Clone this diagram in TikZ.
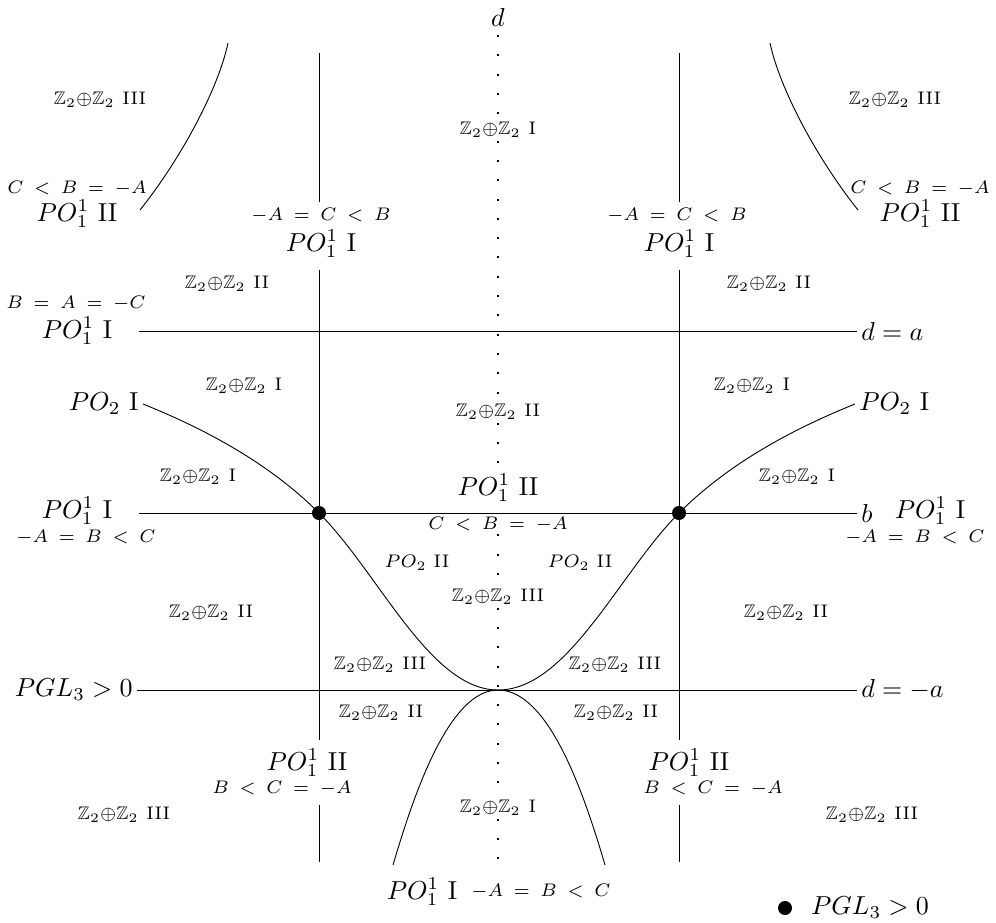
\documentclass[tikz,border=0pt]{standalone}
\usepackage{amsmath,amssymb}
\newcommand{\zzlab}[1]{$\mathbb{Z}_2{\oplus}\mathbb{Z}_2$\hspace{3pt}#1}
\newcommand{\rlab}[1]{$\thickmuskip=9mu #1$}
\newcommand{\polab}[1]{$PO_1^1$ #1}
\begin{document}
\begin{tikzpicture}[x=0.385pt,y=-0.385pt,
  big/.style={inner sep=1pt, font=\normalsize},
  sm/.style={inner sep=1pt, font=\scriptsize},
  zz/.style={inner sep=1pt, font=\scriptsize},
  ln/.style={line width=0.35pt},
  dotline/.style={line width=0.75pt, dash pattern=on 0.75pt off 6.68pt},
  pt/.style={circle, fill, inner sep=0pt, minimum size=5.4pt}]
\useasboundingbox (0,0) rectangle (996,923);

% ---- labels: Z2+Z2 regions
\node[zz] (zIIIa) at (100,100) {\zzlab{III}};
\node[zz] (zIIIb) at (895,100) {\zzlab{III}};
\node[zz] (zI)    at (498,130) {\zzlab{I}};
\node[zz] (zIIa)  at (227,284) {\zzlab{II}};
\node[zz] (zIIb)  at (769,284) {\zzlab{II}};
\node[zz] (zIa)   at (244,386) {\zzlab{I}};
\node[zz] (zIb)   at (752,386) {\zzlab{I}};
\node[zz] (zII)   at (498,412) {\zzlab{II}};
\node[zz] (zIc)   at (198,477) {\zzlab{I}};
\node[zz] (zId)   at (797,477) {\zzlab{I}};
\node[zz] (zIIIc) at (498,597) {\zzlab{III}};
\node[zz] (zIIe)  at (211,613) {\zzlab{II}};
\node[zz] (zIIf)  at (786,613) {\zzlab{II}};
\node[zz] (zIIIe) at (380,665) {\zzlab{III}};
\node[zz] (zIIIf) at (615,665) {\zzlab{III}};
\node[zz] (zIIg)  at (381,713) {\zzlab{II}};
\node[zz] (zIIh)  at (616,713) {\zzlab{II}};
\node[zz] (zIe)   at (498,808) {\zzlab{I}};
\node[zz] (zIIIg) at (124,815) {\zzlab{III}};
\node[zz] (zIIIh) at (872,815) {\zzlab{III}};

% ---- other labels
\node[big] (d) at (498,17) {$d$};
\node[sm] (tlrel) at (77,188) {\rlab{C<B=-A}};
\node[big] (tlpo) at (77,214) {\polab{II}};
\node[sm] (trrel) at (920,188) {\rlab{C<B=-A}};
\node[big] (trpo) at (920,214) {\polab{II}};
\node[sm] (v1rel) at (321,215) {\rlab{-A=C<B}};
\node[big] (v1po) at (321,244) {\polab{I}};
\node[sm] (v2rel) at (677,215) {\rlab{-A=C<B}};
\node[big] (v2po) at (679,244) {\polab{I}};
\node[sm] (lrel1) at (76,303) {\rlab{B=A=-C}};
\node[big] (lpo1) at (77,331) {\polab{I}};
\node[big,anchor=west,inner sep=1.5pt] (da) at (857,331) {$d=a$};
\node[big,anchor=east,inner sep=1.5pt] (po2l) at (143,404) {$PO_2$ I};
\node[big,anchor=west,inner sep=1.5pt] (po2r) at (855,404) {$PO_2$ I};
\node[big] (poIIc) at (498,488) {\polab{II}};
\node[sm] (cbAc) at (498,524) {\rlab{C<B=-A}};
\node[big] (lpo2) at (77,511) {\polab{I}};
\node[sm] (lrel2) at (86,537) {\rlab{-A=B<C}};
\node[big,anchor=west,inner sep=1.5pt] (bl) at (857,513) {$b$};
\node[big] (rpo2) at (930,511) {\polab{I}};
\node[sm] (rrel2) at (915,537) {\rlab{-A=B<C}};
\node[sm] (po2IIa) at (417,563) {$PO_2$ II};
\node[sm] (po2IIb) at (580,563) {$PO_2$ II};
\node[big,anchor=east,inner sep=1.5pt] (pgl) at (137,690) {$PGL_3>0$};
\node[big,anchor=west,inner sep=1.5pt] (dma) at (857,690) {$d=-a$};
\node[big] (v1po2) at (307,763) {\polab{II}};
\node[sm] (v1rel2) at (282,788) {\rlab{B<C=-A}};
\node[big] (v2po2) at (689,763) {\polab{II}};
\node[sm] (v2rel2) at (713,788) {\rlab{B<C=-A}};
\node[big] (bpo) at (422,892) {\polab{I}};
\node[sm] (brel) at (541,891) {\rlab{-A=B<C}};
\node[pt] (leg) at (785,908) {};
\node[big] (legt) at (870,908) {$PGL_3>0$};

% ---- key points
\node[pt] (p1) at (319,513) {};
\node[pt] (p2) at (679,513) {};
\coordinate (T) at (498,690);
\coordinate (dtop) at (498,35);
\coordinate (dbot) at (498,866);

% ---- dotted axis d
\draw[dotline] (dtop) -- (zI) -- (zII) -- (poIIc);
\draw[dotline] (cbAc) -- (zIIIc) -- (zIe) -- (dbot);

% ---- vertical lines
\foreach \n/\x in {a/319,b/679}{
  \coordinate (v\n1) at (\x,53);
  \coordinate (v\n2) at (\x,202);
  \coordinate (v\n3) at (\x,270);
  \coordinate (v\n4) at (\x,740);
  \coordinate (v\n5) at (\x,805);
  \coordinate (v\n6) at (\x,862);
  \draw[ln] (v\n1) -- (v\n2) (v\n3) -- (v\n4) (v\n5) -- (v\n6);
}

% ---- horizontal lines
\coordinate (h1) at (139,331);
\coordinate (h2) at (139,513);
\draw[ln] (h1) -- (da.west);
\draw[ln] (h2) -- (bl.west);
\draw[ln] (pgl.east) -- (dma.west);

% ---- PO2 curves
\draw[ln] (po2l.east) .. controls (205,429) and (269,463) .. (p1.center)
          .. controls (379,573) and (430,690) .. (T);
\draw[ln] (po2r.west) .. controls (793,429) and (729,463) .. (p2.center)
          .. controls (619,573) and (568,690) .. (T);

% ---- lower curves
\coordinate (lb) at (393,865);
\coordinate (rb) at (605,865);
\draw[ln] (T) .. controls (450,690) and (415,790) .. (lb);
\draw[ln] (T) .. controls (548,690) and (583,790) .. (rb);

% ---- upper corner curves
\coordinate (tla) at (228,43);
\coordinate (tlb) at (140,210);
\coordinate (tra) at (770,43);
\coordinate (trb) at (858,210);
\draw[ln] (tla) .. controls (218,90) and (180,160) .. (tlb);
\draw[ln] (tra) .. controls (780,90) and (818,160) .. (trb);
\end{tikzpicture}
\end{document}
